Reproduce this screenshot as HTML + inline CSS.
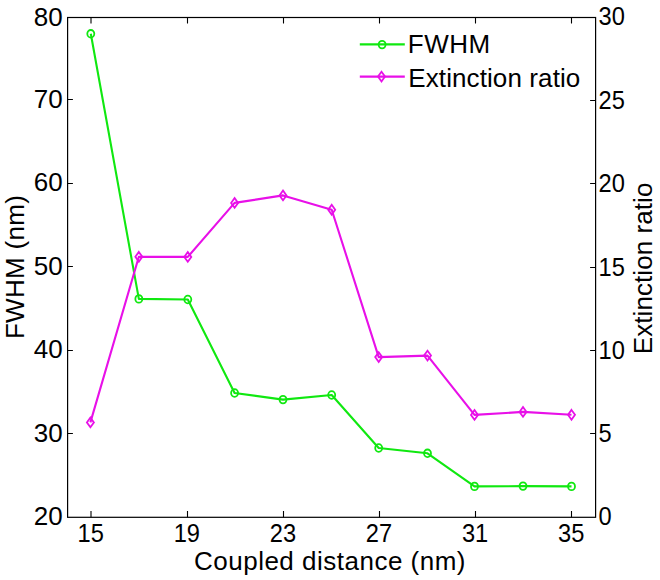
<!DOCTYPE html><html><head><meta charset="utf-8"><style>html,body{margin:0;padding:0;background:#fff;width:660px;height:580px;overflow:hidden}svg{display:block}text{font-family:"Liberation Sans",sans-serif;fill:#000}</style></head><body>
<svg width="660" height="580" viewBox="0 0 660 580">
<rect width="660" height="580" fill="#fff"/>
<polyline points="90.80,33.80 138.85,298.90 187.80,299.50 234.60,393.00 283.00,399.60 331.70,395.00 378.70,448.00 427.50,453.30 474.50,486.40 523.00,486.10 571.50,486.40" fill="none" stroke="#10e810" stroke-width="2.1" stroke-linejoin="round"/>
<polyline points="90.40,422.40 138.85,256.80 187.80,256.90 234.60,202.90 283.00,195.40 331.70,209.70 378.70,357.10 427.50,355.60 474.50,414.90 523.00,411.90 571.50,414.80" fill="none" stroke="#e810e8" stroke-width="2.1" stroke-linejoin="round"/>
<ellipse cx="90.80" cy="33.80" rx="3.5" ry="3.8" fill="none" stroke="#10e810" stroke-width="1.8"/>
<ellipse cx="138.85" cy="298.90" rx="3.5" ry="3.8" fill="none" stroke="#10e810" stroke-width="1.8"/>
<ellipse cx="187.80" cy="299.50" rx="3.5" ry="3.8" fill="none" stroke="#10e810" stroke-width="1.8"/>
<ellipse cx="234.60" cy="393.00" rx="3.5" ry="3.8" fill="none" stroke="#10e810" stroke-width="1.8"/>
<ellipse cx="283.00" cy="399.60" rx="3.5" ry="3.8" fill="none" stroke="#10e810" stroke-width="1.8"/>
<ellipse cx="331.70" cy="395.00" rx="3.5" ry="3.8" fill="none" stroke="#10e810" stroke-width="1.8"/>
<ellipse cx="378.70" cy="448.00" rx="3.5" ry="3.8" fill="none" stroke="#10e810" stroke-width="1.8"/>
<ellipse cx="427.50" cy="453.30" rx="3.5" ry="3.8" fill="none" stroke="#10e810" stroke-width="1.8"/>
<ellipse cx="474.50" cy="486.40" rx="3.5" ry="3.8" fill="none" stroke="#10e810" stroke-width="1.8"/>
<ellipse cx="523.00" cy="486.10" rx="3.5" ry="3.8" fill="none" stroke="#10e810" stroke-width="1.8"/>
<ellipse cx="571.50" cy="486.40" rx="3.5" ry="3.8" fill="none" stroke="#10e810" stroke-width="1.8"/>
<path d="M90.40,417.50L93.90,422.40L90.40,427.30L86.90,422.40Z" fill="none" stroke="#e810e8" stroke-width="1.8"/>
<path d="M138.85,251.90L142.35,256.80L138.85,261.70L135.35,256.80Z" fill="none" stroke="#e810e8" stroke-width="1.8"/>
<path d="M187.80,252.00L191.30,256.90L187.80,261.80L184.30,256.90Z" fill="none" stroke="#e810e8" stroke-width="1.8"/>
<path d="M234.60,198.00L238.10,202.90L234.60,207.80L231.10,202.90Z" fill="none" stroke="#e810e8" stroke-width="1.8"/>
<path d="M283.00,190.50L286.50,195.40L283.00,200.30L279.50,195.40Z" fill="none" stroke="#e810e8" stroke-width="1.8"/>
<path d="M331.70,204.80L335.20,209.70L331.70,214.60L328.20,209.70Z" fill="none" stroke="#e810e8" stroke-width="1.8"/>
<path d="M378.70,352.20L382.20,357.10L378.70,362.00L375.20,357.10Z" fill="none" stroke="#e810e8" stroke-width="1.8"/>
<path d="M427.50,350.70L431.00,355.60L427.50,360.50L424.00,355.60Z" fill="none" stroke="#e810e8" stroke-width="1.8"/>
<path d="M474.50,410.00L478.00,414.90L474.50,419.80L471.00,414.90Z" fill="none" stroke="#e810e8" stroke-width="1.8"/>
<path d="M523.00,407.00L526.50,411.90L523.00,416.80L519.50,411.90Z" fill="none" stroke="#e810e8" stroke-width="1.8"/>
<path d="M571.50,409.90L575.00,414.80L571.50,419.70L568.00,414.80Z" fill="none" stroke="#e810e8" stroke-width="1.8"/>
<rect x="67.6" y="17.5" width="528.0" height="499.79999999999995" fill="none" stroke="#000" stroke-width="1.2"/>
<path d="M91.00,517.3V511.00M91.00,17.5V23.50M187.50,517.3V511.00M187.50,17.5V23.50M283.50,517.3V511.00M283.50,17.5V23.50M379.50,517.3V511.00M379.50,17.5V23.50M475.50,517.3V511.00M475.50,17.5V23.50M571.50,517.3V511.00M571.50,17.5V23.50M67.6,99.50H72.90M67.6,183.50H72.90M67.6,266.50H72.90M67.6,350.50H72.90M67.6,433.50H72.90M595.6,433.50H590.10M595.6,350.50H590.10M595.6,267.50H590.10M595.6,183.50H590.10M595.6,100.50H590.10" stroke="#000" stroke-width="1.1" fill="none"/>
<text transform="translate(90.70,541.7) scale(0.91,1)" font-size="26" text-anchor="middle">15</text>
<text transform="translate(186.80,541.7) scale(0.91,1)" font-size="26" text-anchor="middle">19</text>
<text transform="translate(282.90,541.7) scale(0.91,1)" font-size="26" text-anchor="middle">23</text>
<text transform="translate(379.00,541.7) scale(0.91,1)" font-size="26" text-anchor="middle">27</text>
<text transform="translate(475.10,541.7) scale(0.91,1)" font-size="26" text-anchor="middle">31</text>
<text transform="translate(571.20,541.7) scale(0.91,1)" font-size="26" text-anchor="middle">35</text>
<text x="62.7" y="25.50" font-size="26" text-anchor="end">80</text>
<text x="62.7" y="107.90" font-size="26" text-anchor="end">70</text>
<text x="62.7" y="191.30" font-size="26" text-anchor="end">60</text>
<text x="62.7" y="274.70" font-size="26" text-anchor="end">50</text>
<text x="62.7" y="358.10" font-size="26" text-anchor="end">40</text>
<text x="62.7" y="441.50" font-size="26" text-anchor="end">30</text>
<text x="62.7" y="524.90" font-size="26" text-anchor="end">20</text>
<text transform="translate(598.6,525.40) scale(0.91,1)" font-size="26">0</text>
<text transform="translate(598.6,442.10) scale(0.91,1)" font-size="26">5</text>
<text transform="translate(598.6,358.80) scale(0.91,1)" font-size="26">10</text>
<text transform="translate(598.6,275.50) scale(0.91,1)" font-size="26">15</text>
<text transform="translate(598.6,192.20) scale(0.91,1)" font-size="26">20</text>
<text transform="translate(598.6,108.90) scale(0.91,1)" font-size="26">25</text>
<text transform="translate(598.6,25.10) scale(0.91,1)" font-size="26">30</text>
<text x="194.0" y="570" font-size="26" textLength="271.5">Coupled distance (nm)</text>
<text transform="translate(24.4,267.1) rotate(-90)" font-size="26" text-anchor="middle" textLength="144">FWHM (nm)</text>
<text transform="translate(652.4,268.4) rotate(-90)" font-size="26" text-anchor="middle" textLength="171.5">Extinction ratio</text>
<line x1="359.8" y1="44.4" x2="404.8" y2="44.4" stroke="#10e810" stroke-width="2.1"/>
<ellipse cx="382.1" cy="44.6" rx="3.5" ry="3.8" fill="none" stroke="#10e810" stroke-width="1.8"/>
<text x="407.8" y="53.0" font-size="26" textLength="82.4">FWHM</text>
<line x1="359.8" y1="76.6" x2="404.8" y2="76.6" stroke="#e810e8" stroke-width="2.1"/>
<path d="M381.5,71.69999999999999L385.0,76.6L381.5,81.5L378.0,76.6Z" fill="none" stroke="#e810e8" stroke-width="1.8"/>
<text x="408.3" y="87.0" font-size="26" textLength="172.0">Extinction ratio</text>
</svg></body></html>
